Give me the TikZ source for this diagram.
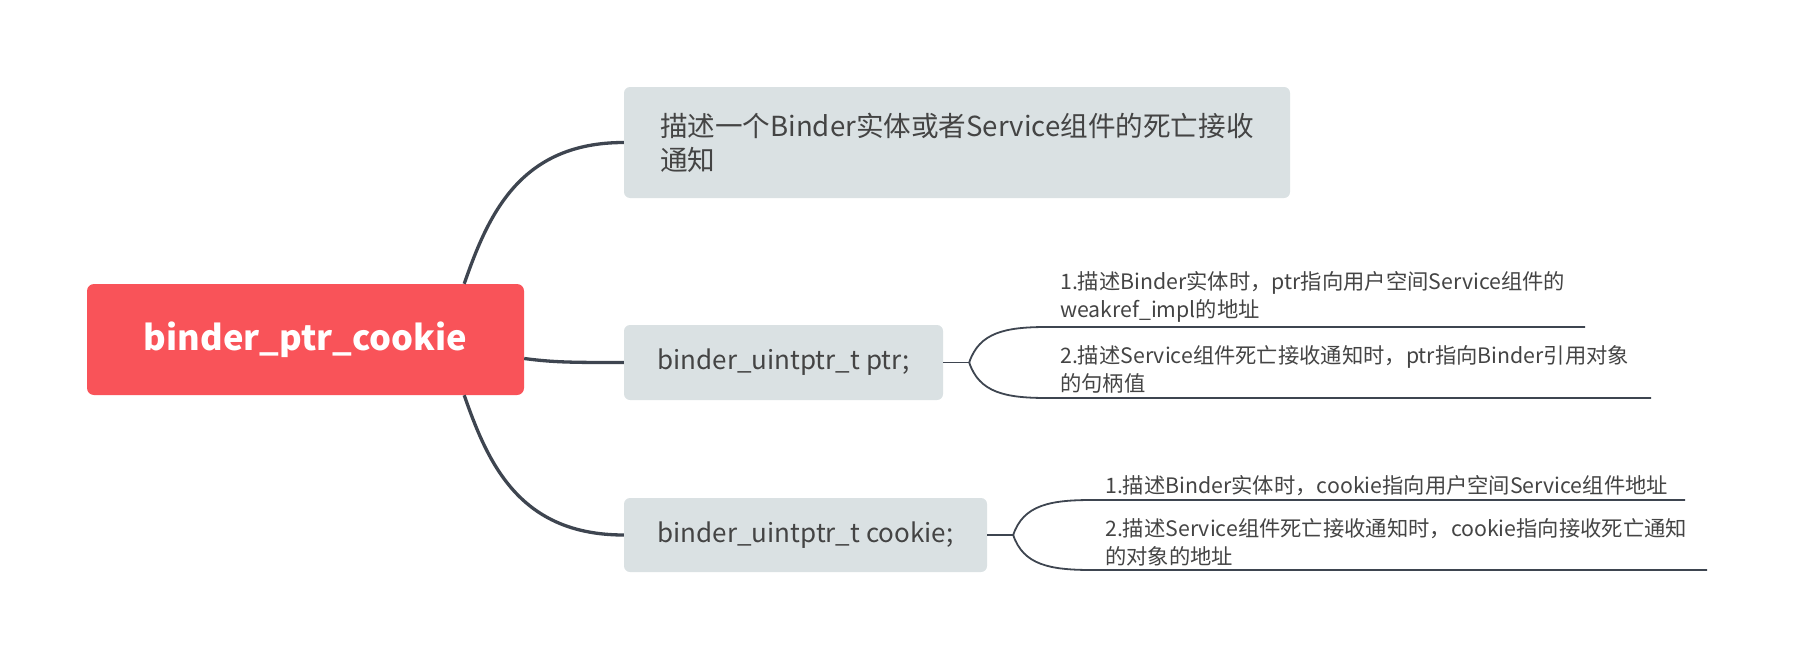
\documentclass[tikz,border=0pt]{standalone}
\usepackage{fontspec}
\setmainfont{Noto Sans CJK SC}
\usetikzlibrary{calc}
\definecolor{rootred}{HTML}{F95359}
\definecolor{boxgray}{HTML}{DAE1E3}
\definecolor{txt}{HTML}{444444}
\definecolor{conn}{HTML}{3E4550}
\begin{document}
\begin{tikzpicture}[x=1pt,y=-1pt,
  rootbox/.style={rectangle, rounded corners=7pt, fill=rootred, text=white,
    font=\fontsize{34.5}{42}\selectfont\bfseries, minimum width=437pt, minimum height=111pt, inner sep=0pt},
  topicbox/.style={rectangle, rounded corners=6pt, fill=boxgray, text=txt,
    font=\fontsize{26}{34}\selectfont, inner sep=0pt, align=left},
  leaf/.style={text=txt, font=\fontsize{21.3}{28}\selectfont, align=left, anchor=south west,
    inner xsep=13pt, inner ysep=4pt},
  mainline/.style={draw=conn, line width=3.3pt},
  subline/.style={draw=conn, line width=1.8pt}]
\useasboundingbox (0,0) rectangle (1795,661);

% nodes
\node[rootbox] (root) at (305.5,339.5) {binder\_ptr\_cookie};
\node[topicbox, minimum width=666pt, minimum height=111pt, text width=594pt,
  font=\fontsize{27.6}{34}\selectfont] (desc) at (957,142.5)
  {描述一个Binder实体或者Service组件的死亡接收\\通知};
\node[topicbox, minimum width=319pt, minimum height=75pt] (ptr) at (783.5,362.5)
  {binder\_uintptr\_t ptr;};
\node[topicbox, minimum width=363pt, minimum height=74pt] (cookie) at (805.5,535)
  {binder\_uintptr\_t cookie;};

\node[leaf] (p1) at (1047,327) {1.描述Binder实体时，ptr指向用户空间Service组件的\\weakref\_impl的地址};
\node[leaf] (p2) at (1047,398) {2.描述Service组件死亡接收通知时，ptr指向Binder引用对象\\的句柄值};
\node[leaf] (c1) at (1092,500) {1.描述Binder实体时，cookie指向用户空间Service组件地址};
\node[leaf] (c2) at (1092,570) {2.描述Service组件死亡接收通知时，cookie指向接收死亡通知\\的对象的地址};

% anchor points on root
\coordinate (rtop) at ($(root.north east)+(-60,0)$);
\coordinate (rbot) at ($(root.south east)+(-60,0)$);
\coordinate (rmid) at ($(root.east)+(0,19)$);
\coordinate (jp) at ($(ptr.east)+(26,0)$);
\coordinate (jc) at ($(cookie.east)+(26,0)$);

% main connectors
\draw[mainline] (rtop) .. controls ($(rtop)+(24,-69)$) and ($(desc.west)+(-104,0)$) .. (desc.west);
\draw[mainline] (rmid) .. controls ($(rmid)+(30,4)$) and ($(ptr.west)+(-50,0)$) .. (ptr.west);
\draw[mainline] (rbot) .. controls ($(rbot)+(24,69)$) and ($(cookie.west)+(-104,0)$) .. (cookie.west);

% sub connectors
\draw[subline] (ptr.east) -- (jp);
\draw[subline] (jp) .. controls ($(jp)+(10,-30)$) and ($(p1.south west)+(-42,0)$) .. (p1.south west) -- ++(538,0);
\draw[subline] (jp) .. controls ($(jp)+(10,30)$) and ($(p2.south west)+(-42,0)$) .. (p2.south west) -- ++(604,0);
\draw[subline] (cookie.east) -- (jc);
\draw[subline] (jc) .. controls ($(jc)+(10,-30)$) and ($(c1.south west)+(-42,0)$) .. (c1.south west) -- ++(593,0);
\draw[subline] (jc) .. controls ($(jc)+(10,30)$) and ($(c2.south west)+(-42,0)$) .. (c2.south west) -- ++(615,0);
\end{tikzpicture}
\end{document}
